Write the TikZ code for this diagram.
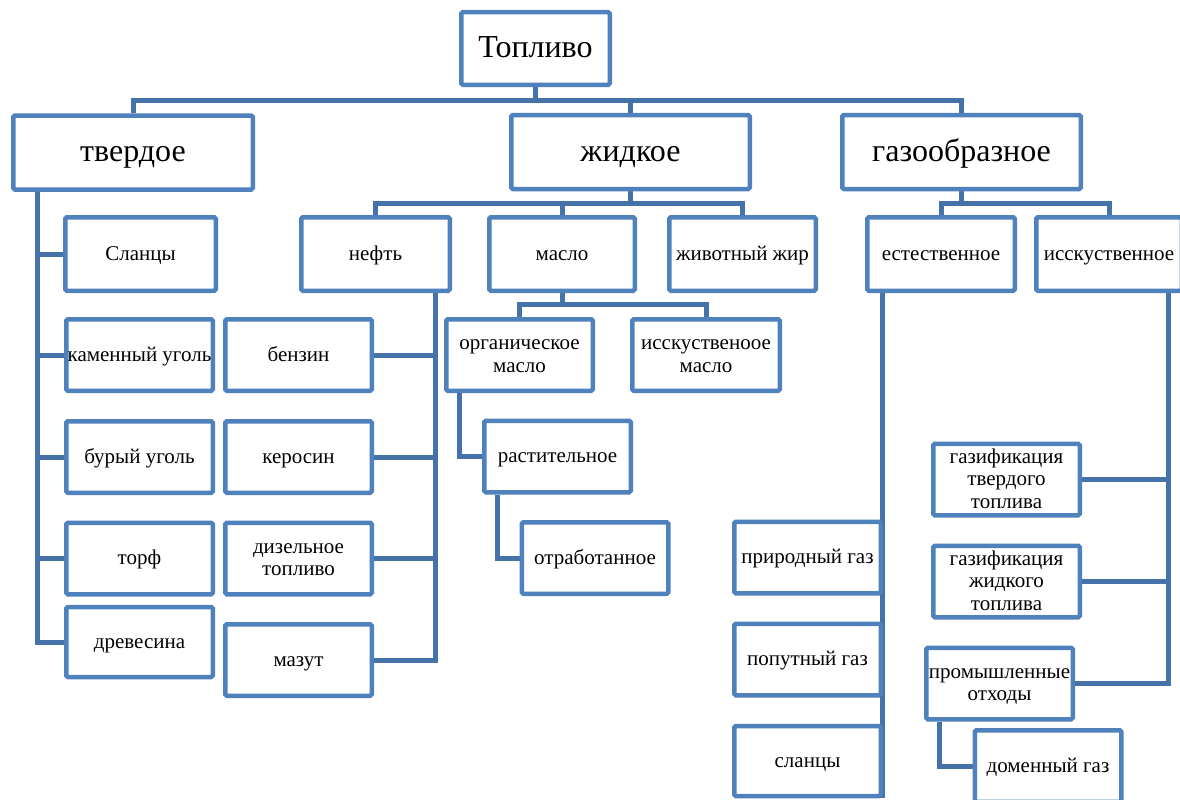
\documentclass[tikz,border=0pt]{standalone}
\usepackage{fontspec}
\setmainfont{Liberation Serif}
\usetikzlibrary{backgrounds}
\definecolor{boxblue}{HTML}{4F81BD}
\definecolor{linkblue}{HTML}{4672AA}
\renewcommand\arraystretch{0}
\newcommand\rs{\rule[-5.25pt]{0pt}{22.5pt}}
\newcommand\mlines[1]{\begin{tabular}{@{}c@{}}#1\end{tabular}}
\tikzset{
  boxbase/.style={draw=boxblue, line width=4.5pt, fill=white, rounded corners=1.5pt,
    inner sep=0pt, font=\fontsize{21}{22.5}\selectfont,
    minimum width=146.5pt, minimum height=71.5pt},
  box/.style={boxbase, text height=16.5pt, text depth=4.5pt},
  mbox/.style={boxbase},
  big/.style={boxbase, font=\fontsize{32}{34}\selectfont, minimum height=74pt,
    text height=25.8pt, text depth=7pt},
  midrow/.style={minimum height=73.5pt},
  link/.style={draw=linkblue, line width=5pt},
}
\begin{document}
\begin{tikzpicture}[x=1pt,y=-1pt]
\useasboundingbox (0,0) rectangle (1180,800);
% level 1
\node[big,minimum width=148.5pt,minimum height=72.5pt] (top) at (535.5,48.5) {Топливо};
% level 2
\node[big,minimum width=239.5pt] (tv) at (133,152.5) {твердое};
\node[big,minimum width=238.5pt] (zh) at (630.5,152) {жидкое};
\node[big,minimum width=238.5pt] (gaz) at (961.5,152) {газообразное};
% level 3
\node[box,midrow,minimum width=150.5pt] (slancy) at (140.5,254) {Сланцы};
\node[box,midrow,minimum width=148.5pt] (neft) at (375.5,254) {нефть};
\node[box,midrow,minimum width=145.5pt] (maslo) at (562,254) {масло};
\node[box,midrow,minimum width=146.5pt] (zhir) at (742.5,254) {животный жир};
\node[box,midrow,minimum width=147.5pt] (est) at (941,254) {естественное};
\node[box,midrow,minimum width=145.5pt] (isk) at (1109,254) {исскуственное};
% solid column
\node[box] (kam) at (139.5,355) {каменный уголь};
\node[box] (bur) at (139.5,457) {бурый уголь};
\node[box] (torf) at (139.5,558.5) {торф};
\node[box,minimum height=70pt] (drev) at (139.5,642) {древесина};
% oil column
\node[box] (benz) at (298.5,355) {бензин};
\node[box] (ker) at (298.5,457) {керосин};
\node[mbox] (diz) at (298.5,558.5) {\mlines{\rs дизельное\\\rs топливо}};
\node[box] (mazut) at (298.5,660) {мазут};
% oils
\node[mbox] (org) at (519.5,355) {\mlines{\rs органическое\\\rs масло}};
\node[mbox,minimum width=147.5pt] (ism) at (706,355) {\mlines{\rs исскуственоое\\\rs масло}};
\node[box] (rast) at (557.5,456.5) {растительное};
\node[box] (otr) at (595,558) {отработанное};
% natural gas
\node[box] (prir) at (807.5,557.5) {природный газ};
\node[box] (pop) at (807.5,659.5) {попутный газ};
\node[box,minimum height=70pt] (sl2) at (807.5,761) {сланцы};
% artificial gas
\node[mbox] (gt) at (1006.5,479.5) {\mlines{\rs газификация\\\rs твердого\\\rs топлива}};
\node[mbox] (gzh) at (1006.5,581.5) {\mlines{\rs газификация\\\rs жидкого\\\rs топлива}};
\node[mbox] (prom) at (999.5,683.5) {\mlines{\rs промышленные\\\rs отходы}};
\node[box] (dom) at (1048,766) {доменный газ};
% trunk positions
\coordinate (bus1) at (0,100);
\coordinate (bus2) at (0,203);
\coordinate (bus3) at (0,304);
\coordinate (tvT) at (37,0);
\coordinate (nfT) at (435,0);
\coordinate (orgT) at (459,0);
\coordinate (rastT) at (497,0);
\coordinate (estT) at (882,0);
\coordinate (iskT) at (1168,0);
\coordinate (promT) at (939,0);
\begin{scope}[on background layer]
\draw[link] (top.south) -- (top.south |- bus1);
\draw[link] (tv.north) -- (tv.north |- bus1) -- (gaz.north |- bus1) -- (gaz.north);
\draw[link] (zh.north) -- (zh.north |- bus1);
\draw[link] (zh.south) -- (zh.south |- bus2);
\draw[link] (neft.north) -- (neft.north |- bus2) -- (zhir.north |- bus2) -- (zhir.north);
\draw[link] (maslo.north) -- (maslo.north |- bus2);
\draw[link] (gaz.south) -- (gaz.south |- bus2);
\draw[link] (est.north) -- (est.north |- bus2) -- (isk.north |- bus2) -- (isk.north);
\draw[link] (tv.south -| tvT) |- (drev.west);
\foreach \n in {slancy,kam,bur,torf} \draw[link] (tvT |- \n.west) -- (\n.west);
\draw[link] (neft.south -| nfT) |- (mazut.east);
\foreach \n in {benz,ker,diz} \draw[link] (\n.east) -- (nfT |- \n.east);
\draw[link] (maslo.south) -- (maslo.south |- bus3);
\draw[link] (org.north) -- (org.north |- bus3) -- (ism.north |- bus3) -- (ism.north);
\draw[link] (org.south -| orgT) |- (rast.west);
\draw[link] (rast.south -| rastT) |- (otr.west);
\draw[link] (est.south -| estT) -- (estT |- sl2.south);
\draw[link] (isk.south -| iskT) |- (prom.east);
\foreach \n in {gt,gzh} \draw[link] (\n.east) -- (iskT |- \n.east);
\draw[link] (prom.south -| promT) |- (dom.west);
\end{scope}
\end{tikzpicture}
\end{document}
